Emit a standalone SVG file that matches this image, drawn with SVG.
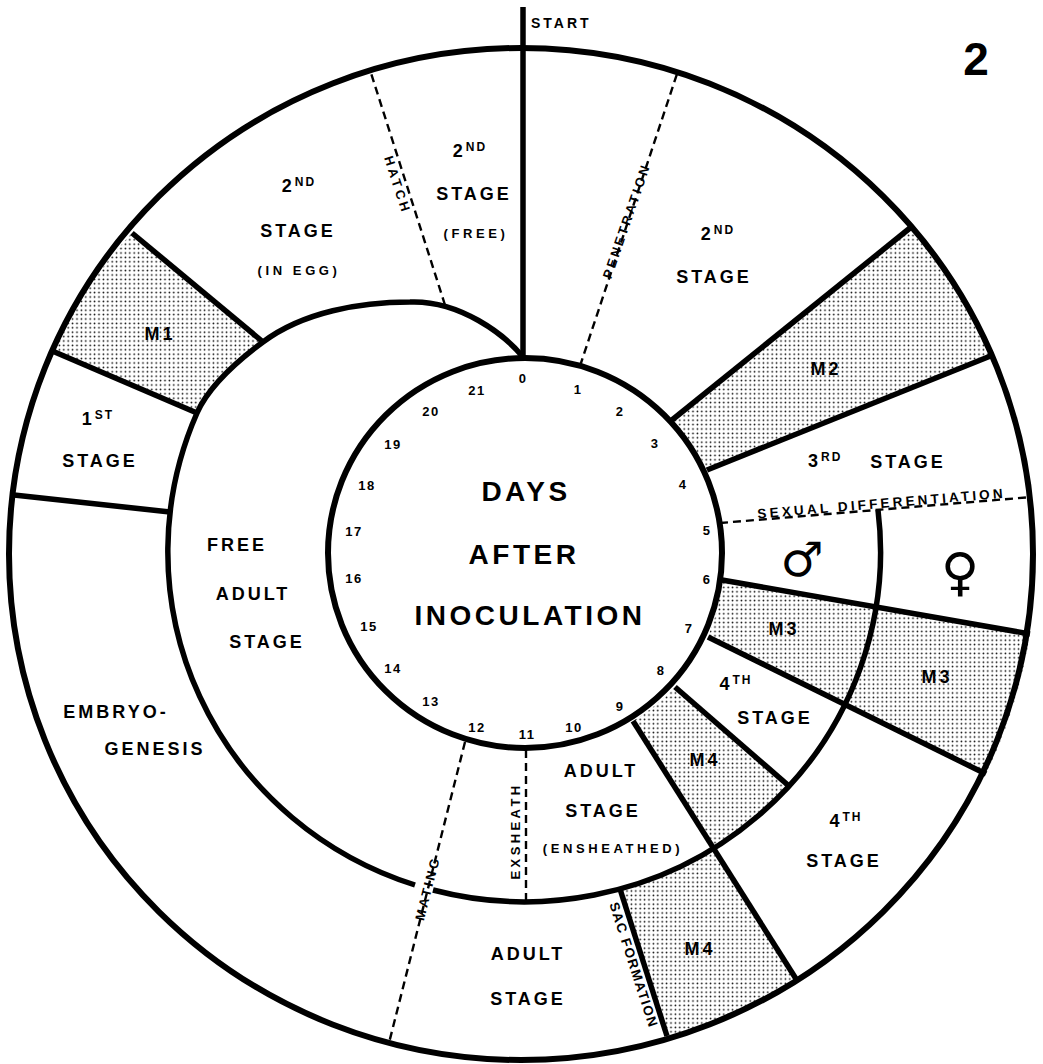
<svg xmlns="http://www.w3.org/2000/svg" width="1043" height="1064" viewBox="0 0 1043 1064">
<style>
.ring{fill:none;stroke:#000;stroke-width:6}
.thick{fill:none;stroke:#000;stroke-width:5.5;stroke-linecap:butt}
.dash{fill:none;stroke:#000;stroke-width:2.4;stroke-dasharray:8 5}
.dot{fill:url(#stipple);stroke:none}
text{font-family:"Liberation Sans",Arial,sans-serif;fill:#000}
.lbl{font-size:18px;font-weight:bold;letter-spacing:3px;text-anchor:middle}
.sup{font-size:12px;letter-spacing:2px}
.paren{font-size:13px;font-weight:bold;letter-spacing:3.6px;text-anchor:middle}
.ev{font-size:13px;font-weight:bold;letter-spacing:2.6px;text-anchor:middle}
.num{font-size:13px;font-weight:bold;letter-spacing:1.5px;text-anchor:middle}
.big{font-size:28px;font-weight:bold;letter-spacing:3.5px;text-anchor:middle}
.sym{font-family:"DejaVu Sans",sans-serif;text-anchor:middle}
</style>
<defs>
<pattern id="stipple" width="4.4" height="4.4" patternUnits="userSpaceOnUse">
<circle cx="2.2" cy="2.2" r="0.85" fill="#000"/>
</pattern>
</defs>
<rect width="1043" height="1064" fill="#fff"/>

<g id="molt-fills">
<path id="m1-fill" class="dot" d="M 50 350 A 512 506 0 0 1 132 233 L 263 342 C 240 359 209 386 197 413 Z"/>
<path id="m2-fill" class="dot" d="M 672 420 L 910 228 A 512 506 0 0 1 993 355 L 707 470 A 197 195 0 0 0 672 420 Z"/>
<path id="m3-male-fill" class="dot" d="M 722 580 L 876 607 A 356 350 0 0 1 845 703 L 708 637 A 197 195 0 0 0 722 580 Z"/>
<path id="m3-female-fill" class="dot" d="M 876 607 L 1030 634 A 512 506 0 0 1 986 774 L 845 703 A 356 350 0 0 0 876 607 Z"/>
<path id="m4-male-fill" class="dot" d="M 675 687 L 789 786 A 356 350 0 0 1 713 849 L 633 721 A 197 195 0 0 0 675 687 Z"/>
<path id="m4-female-fill" class="dot" d="M 713 849 L 798 982 A 512 506 0 0 1 667 1036 L 620 889 A 356 350 0 0 0 713 849 Z"/>
</g>

<g id="connectors">
<path class="dash" d="M 580 366 L 677 74"/>
<path class="dash" d="M 445 305 L 370 70"/>
<path class="dash" d="M 720 523 L 1032 497"/>
<path class="dash" d="M 526 750 L 526 902"/>
<path class="dash" d="M 465 742 L 389 1043"/>
<path class="thick" d="M 523 7 L 523 358"/>
<path class="thick" d="M 672 420 L 910 228"/>
<path class="thick" d="M 707 470 L 993 355"/>
<path class="thick" d="M 722 580 L 1030 634"/>
<path class="thick" d="M 708 637 L 986 774"/>
<path class="thick" d="M 675 687 L 789 786"/>
<path class="thick" d="M 633 721 L 798 982"/>
<path class="thick" d="M 620 889 L 667 1036"/>
<path class="thick" d="M 14 495 L 170 512"/>
<path class="thick" d="M 50 350 L 197 413"/>
<path class="thick" d="M 132 233 L 263 342"/>
<path id="spiral" class="thick" d="M 878 510 A 356 350 0 0 1 433 890 M 415 885 A 356 350 0 0 1 197 413 C 209 386 240 359 263 342 C 303 312 360 302 410 302 C 460 300 505 335 523 357"/>
<ellipse id="outer-ring" class="ring" cx="521" cy="554" rx="512" ry="506"/>
<ellipse id="days-ring" class="ring" cx="525" cy="553" rx="197" ry="195"/>
</g>

<g id="start">
<text x="531" y="28" style="font-size:14px;font-weight:bold;letter-spacing:3px">START</text>
</g>
<g id="figure-number">
<text x="976" y="75" style="font-size:46px;font-weight:bold;text-anchor:middle">2</text>
</g>

<g id="days">
<text class="big" x="526" y="501">DAYS</text>
<text class="big" x="524" y="564">AFTER</text>
<text class="big" x="530" y="625">INOCULATION</text>
<text class="num" x="523" y="383">0</text>
<text class="num" x="578" y="394">1</text>
<text class="num" x="620" y="416">2</text>
<text class="num" x="655" y="448">3</text>
<text class="num" x="683" y="489">4</text>
<text class="num" x="707" y="535">5</text>
<text class="num" x="707" y="584">6</text>
<text class="num" x="689" y="633">7</text>
<text class="num" x="661" y="675">8</text>
<text class="num" x="620" y="711">9</text>
<text class="num" x="574" y="732">10</text>
<text class="num" x="527" y="739">11</text>
<text class="num" x="477" y="732">12</text>
<text class="num" x="431" y="706">13</text>
<text class="num" x="393" y="673">14</text>
<text class="num" x="369" y="631">15</text>
<text class="num" x="354" y="583">16</text>
<text class="num" x="354" y="536">17</text>
<text class="num" x="367" y="490">18</text>
<text class="num" x="393" y="449">19</text>
<text class="num" x="431" y="416">20</text>
<text class="num" x="477" y="395">21</text>
</g>

<g id="second-stage-free">
<text class="lbl" x="470" y="157">2<tspan class="sup" dy="-6">ND</tspan></text>
<text class="lbl" x="474" y="200">STAGE</text>
<text class="paren" x="476" y="238">(FREE)</text>
</g>
<g id="penetration">
<text class="ev" x="627" y="221" dy="4" transform="rotate(-71 627 221)">PENETRATION</text>
</g>
<g id="second-stage-host">
<text class="lbl" x="718" y="240">2<tspan class="sup" dy="-6">ND</tspan></text>
<text class="lbl" x="714" y="283">STAGE</text>
</g>
<g id="m2">
<text class="lbl" x="826" y="375">M2</text>
</g>
<g id="third-stage">
<text class="lbl" x="808" y="467" style="text-anchor:start">3<tspan class="sup" dy="-6">RD</tspan></text>
<text class="lbl" x="908" y="468">STAGE</text>
</g>
<g id="sexual-differentiation">
<text class="ev" x="882" y="508" transform="rotate(-4.8 882 508)" style="letter-spacing:3.2px;font-size:13.5px">SEXUAL DIFFERENTIATION</text>
</g>
<g id="male">
<text class="sym" x="802" y="576" style="font-size:48px">♂</text>
</g>
<g id="female">
<text class="sym" x="960" y="590" style="font-size:52px">♀</text>
</g>
<g id="m3-male">
<text class="lbl" x="784" y="635">M3</text>
</g>
<g id="m3-female">
<text class="lbl" x="937" y="683">M3</text>
</g>
<g id="fourth-stage-male">
<text class="lbl" x="736" y="690">4<tspan class="sup" dy="-6">TH</tspan></text>
<text class="lbl" x="775" y="724">STAGE</text>
</g>
<g id="fourth-stage-female">
<text class="lbl" x="846" y="827">4<tspan class="sup" dy="-6">TH</tspan></text>
<text class="lbl" x="844" y="867">STAGE</text>
</g>
<g id="m4-male">
<text class="lbl" x="705" y="766">M4</text>
</g>
<g id="m4-female">
<text class="lbl" x="700" y="955">M4</text>
</g>
<g id="sac-formation">
<text class="ev" x="634" y="965" dy="5" transform="rotate(72.2 634 965)" style="letter-spacing:1.4px;font-size:13.5px">SAC FORMATION</text>
</g>
<g id="adult-ensheathed">
<text class="lbl" x="601" y="777">ADULT</text>
<text class="lbl" x="603" y="817">STAGE</text>
<text class="paren" x="613" y="853">(ENSHEATHED)</text>
</g>
<g id="exsheath">
<text class="ev" x="515" y="831" dy="5" transform="rotate(-90 515 831)" style="letter-spacing:3.4px">EXSHEATH</text>
</g>
<g id="adult-female">
<text class="lbl" x="528" y="960">ADULT</text>
<text class="lbl" x="528" y="1005">STAGE</text>
</g>
<g id="mating">
<text class="ev" x="427" y="888" dy="5" transform="rotate(-75.6 427 888)">MATING</text>
</g>
<g id="embryogenesis">
<text class="lbl" x="116" y="718">EMBRYO-</text>
<text class="lbl" x="155" y="755">GENESIS</text>
</g>
<g id="free-adult">
<text class="lbl" x="237" y="551">FREE</text>
<text class="lbl" x="253" y="600">ADULT</text>
<text class="lbl" x="267" y="648">STAGE</text>
</g>
<g id="first-stage">
<text class="lbl" x="98" y="425">1<tspan class="sup" dy="-6">ST</tspan></text>
<text class="lbl" x="100" y="467">STAGE</text>
</g>
<g id="m1">
<text class="lbl" x="160" y="340">M1</text>
</g>
<g id="second-stage-egg">
<text class="lbl" x="299" y="192">2<tspan class="sup" dy="-6">ND</tspan></text>
<text class="lbl" x="298" y="237">STAGE</text>
<text class="paren" x="299" y="275">(IN EGG)</text>
</g>
<g id="hatch">
<text class="ev" x="398" y="185" dy="5" transform="rotate(72 398 185)" style="letter-spacing:3.2px">HATCH</text>
</g>
</svg>
